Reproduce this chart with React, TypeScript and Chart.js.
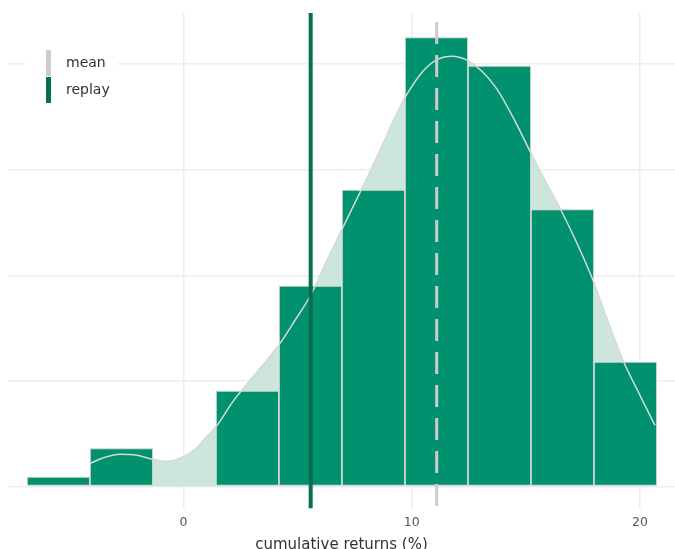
import { useEffect, useRef } from 'react';
import { Chart, registerables } from 'chart.js';

Chart.register(...registerables);

// Histogram bins of cumulative returns (%) and their density heights
const BIN_EDGES = [-6.86, -4.1, -1.34, 1.42, 4.18, 6.94, 9.7, 12.46, 15.22, 17.98, 20.74];
const BIN_DENSITY = [0.0018, 0.0072, 0, 0.0181, 0.038, 0.0562, 0.0851, 0.0797, 0.0525, 0.0236];

// Kernel density estimate of the same returns
const KDE_X = [
  -4.095, -3.438, -2.781, -2.037, -1.336, -0.723, -0.153, 0.504, 1.029, 1.468, 2.168, 2.913,
  3.57, 4.227, 4.884, 5.541, 6.242, 6.986, 7.818, 8.607, 9.176, 9.79, 10.49, 11.147, 11.76,
  12.417, 13.074, 13.731, 14.432, 15.177, 15.834, 16.491, 17.236, 17.937, 18.594, 19.251,
  19.996, 20.653,
];
const KDE_Y = [
  0.00436, 0.0055, 0.00607, 0.00588, 0.00512, 0.00474, 0.00531, 0.00701, 0.00948, 0.01156,
  0.01611, 0.02009, 0.02351, 0.02711, 0.03147, 0.03602, 0.04246, 0.0491, 0.05649, 0.0637,
  0.06919, 0.07431, 0.07867, 0.08095, 0.08152, 0.08076, 0.07867, 0.07526, 0.06995, 0.06351,
  0.05801, 0.0527, 0.04607, 0.03905, 0.03128, 0.02389, 0.01725, 0.01156,
];

const MEAN_RETURN = 11.09;
const REPLAY_RETURN = 5.57;

const X_TICKS = [0, 10, 20];
const Y_GRID = [0, 0.02, 0.04, 0.06, 0.08];
const X_MIN = -7.69;
const X_MAX = 21.53;
const Y_MIN = -0.0042;
const Y_MAX = 0.0897;

const LEGEND_LABELS = ['mean', 'replay'];
const X_TITLE = 'cumulative returns (%)';

const BAR_COLOR = 'rgb(0, 146, 110)';
const BAR_EDGE = 'rgba(218, 218, 218, 1)';
const KDE_FILL = 'rgb(204, 230, 222)';
const KDE_LINE = 'rgb(216, 216, 216)';
const MEAN_COLOR = 'rgb(204, 204, 204)';
const REPLAY_COLOR = 'rgb(8, 110, 80)';
const GRID_COLOR = 'rgb(238, 238, 238)';
const FONT = '"DejaVu Sans", "Liberation Sans", sans-serif';

const legendPlugin = {
  id: 'insideLegend',
  afterDraw(chart: any) {
    const { ctx, chartArea } = chart;
    const colors = [MEAN_COLOR, REPLAY_COLOR];
    ctx.save();
    ctx.fillStyle = '#ffffff';
    ctx.fillRect(chartArea.left + 17, chartArea.top + 28, 93, 86);
    LEGEND_LABELS.forEach((label, i) => {
      const top = chartArea.top + 37 + i * 27;
      ctx.fillStyle = colors[i];
      ctx.fillRect(chartArea.left + 38, top, 5, 26);
      ctx.fillStyle = '#333333';
      ctx.font = `14px ${FONT}`;
      ctx.textBaseline = 'middle';
      ctx.textAlign = 'left';
      ctx.fillText(label, chartArea.left + 58, top + 13);
    });
    ctx.restore();
  },
};

export default function App() {
  const canvasRef = useRef<HTMLCanvasElement | null>(null);

  useEffect(() => {
    if (!canvasRef.current) return;
    const bars = BIN_DENSITY.map((d, i) => ({ x: (BIN_EDGES[i] + BIN_EDGES[i + 1]) / 2, y: d }));
    const kde = KDE_X.map((x, i) => ({ x, y: KDE_Y[i] }));

    const chart = new Chart(canvasRef.current, {
      type: 'bar',
      data: {
        datasets: [
          {
            type: 'line',
            label: 'replay',
            data: [
              { x: REPLAY_RETURN, y: Y_MAX },
              { x: REPLAY_RETURN, y: Y_MIN },
            ],
            borderColor: REPLAY_COLOR,
            borderWidth: 4,
            pointRadius: 0,
            order: 0,
          },
          {
            type: 'line',
            label: 'mean',
            data: [
              { x: MEAN_RETURN, y: Y_MAX },
              { x: MEAN_RETURN, y: Y_MIN },
            ],
            borderColor: MEAN_COLOR,
            borderWidth: 3,
            borderDash: [22, 11],
            borderDashOffset: 24,
            pointRadius: 0,
            order: 1,
          },
          {
            type: 'line',
            label: 'density',
            data: kde,
            borderColor: KDE_LINE,
            borderWidth: 1.5,
            backgroundColor: KDE_FILL,
            fill: 'origin',
            cubicInterpolationMode: 'monotone',
            pointRadius: 0,
            order: 2,
          },
          {
            type: 'bar',
            label: 'returns',
            data: bars,
            backgroundColor: BAR_COLOR,
            borderColor: BAR_EDGE,
            borderWidth: 1.2,
            borderSkipped: false,
            barPercentage: 1,
            categoryPercentage: 1,
            order: 3,
          },
        ],
      } as any,
      options: {
        animation: false,
        responsive: false,
        layout: { padding: { left: 8, top: 13, right: 0, bottom: 0 } },
        plugins: {
          legend: { display: false },
          tooltip: { enabled: false },
          filler: { drawTime: 'beforeDatasetsDraw' },
        } as any,
        scales: {
          x: {
            type: 'linear',
            min: X_MIN,
            max: X_MAX,
            offset: false,
            afterBuildTicks: (scale: any) => {
              scale.ticks = X_TICKS.map((v) => ({ value: v }));
            },
            grid: { color: GRID_COLOR, lineWidth: 1.5, drawTicks: false, offset: false },
            border: { display: false },
            ticks: {
              padding: 6.5,
              color: '#555555',
              font: { family: FONT, size: 12.5 },
              maxRotation: 0,
            },
            title: {
              display: true,
              text: X_TITLE,
              color: '#333333',
              font: { family: FONT, size: 15 },
              padding: { top: -0.5, bottom: 0 },
            },
          },
          y: {
            type: 'linear',
            min: Y_MIN,
            max: Y_MAX,
            afterBuildTicks: (scale: any) => {
              scale.ticks = Y_GRID.map((v) => ({ value: v }));
            },
            grid: { color: GRID_COLOR, lineWidth: 1.5, drawTicks: false },
            border: { display: false },
            ticks: { display: false },
          },
        },
      } as any,
      plugins: [legendPlugin],
    });

    return () => chart.destroy();
  }, []);

  return (
    <div style={{ position: 'absolute', left: 0, top: 0, width: 675, height: 554, background: '#ffffff' }}>
      <canvas ref={canvasRef} width={675} height={554} style={{ display: 'block' }} />
    </div>
  );
}
